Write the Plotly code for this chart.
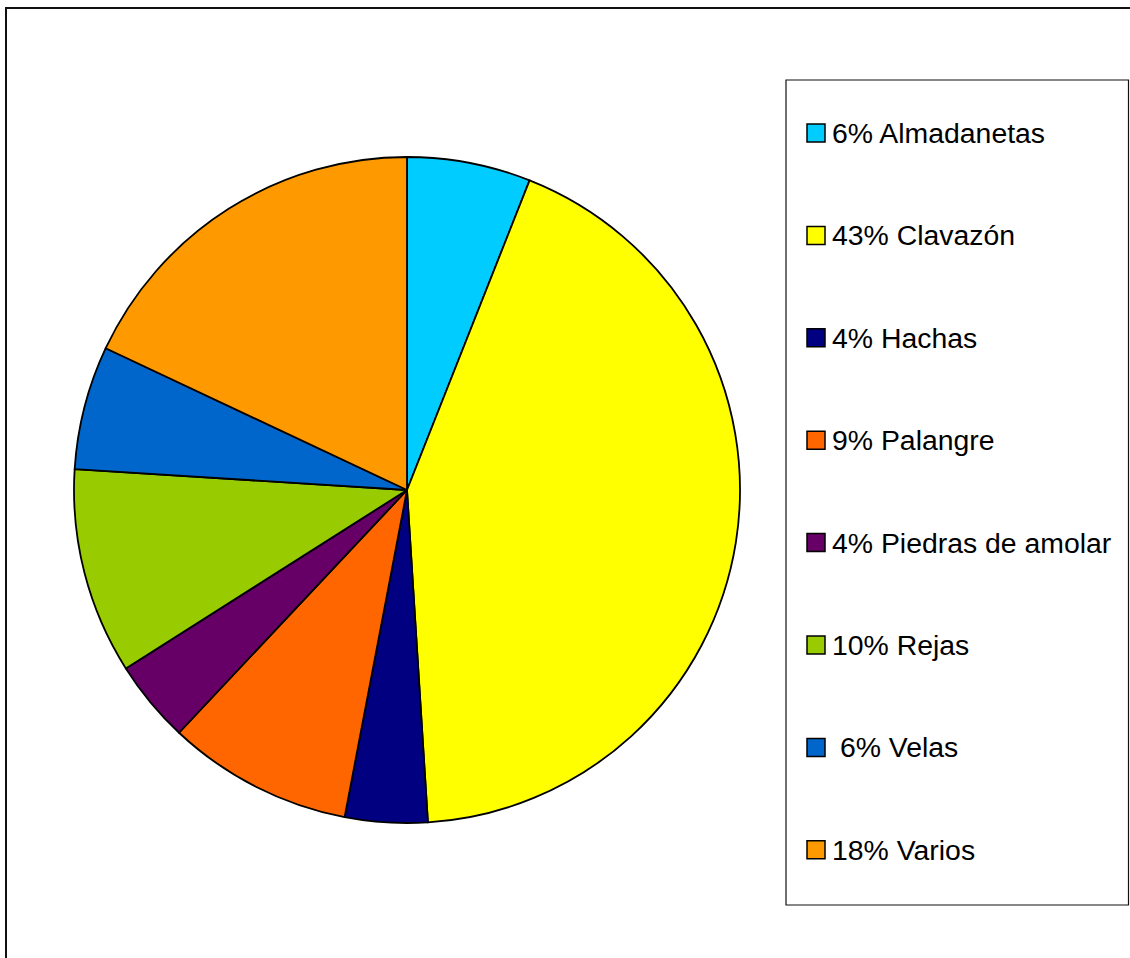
import plotly.graph_objects as go

# Share of goods by category (percent)
labels = ["Almadanetas", "Clavazón", "Hachas", "Palangre",
          "Piedras de amolar", "Rejas", "Velas", "Varios"]
values = [6, 43, 4, 9, 4, 10, 6, 18]
legend_text = ["6% Almadanetas", "43% Clavazón", "4% Hachas", "9% Palangre",
               "4% Piedras de amolar", "10% Rejas", " 6% Velas", "18% Varios"]
colors = ["#00CCFF", "#FFFF00", "#000080", "#FF6600",
          "#660066", "#99CC00", "#0066CC", "#FF9900"]

W, H = 1130, 958


def px(x):
    return x / W


def py(y):
    return 1 - y / H


fig = go.Figure()

# Pie centred at (407, 490) px with radius ~333 px
cx, cy, r = 407, 490, 333
fig.add_trace(go.Pie(
    labels=labels,
    values=values,
    sort=False,
    direction="clockwise",
    rotation=0,
    textinfo="none",
    hoverinfo="label+percent",
    marker=dict(colors=colors, line=dict(color="black", width=1.8)),
    domain=dict(x=[px(cx - r), px(cx + r)], y=[py(cy + r), py(cy - r)]),
    showlegend=False,
))

shapes = []
annotations = []

# Outer chart frame (top and left edges visible)
shapes.append(dict(type="rect", xref="paper", yref="paper",
                   x0=px(6), x1=px(W + 5), y0=py(H + 5), y1=py(8),
                   line=dict(color="#111111", width=2), fillcolor="rgba(0,0,0,0)"))

# Legend box
shapes.append(dict(type="rect", xref="paper", yref="paper",
                   x0=px(786), x1=px(1128.5), y0=py(905), y1=py(80),
                   line=dict(color="#111111", width=1.2), fillcolor="white"))

first_y, step = 133, 102.4
for i, (txt, col) in enumerate(zip(legend_text, colors)):
    yc = first_y + i * step
    shapes.append(dict(type="rect", xref="paper", yref="paper",
                       x0=px(807), x1=px(825), y0=py(yc + 9), y1=py(yc - 9),
                       line=dict(color="black", width=1.5), fillcolor=col))
    annotations.append(dict(xref="paper", yref="paper", x=px(830), y=py(yc),
                            text=txt, showarrow=False, xanchor="left", yanchor="middle",
                            font=dict(family="Liberation Sans, Arial, sans-serif",
                                      size=28.4, color="black")))

fig.update_layout(
    width=W, height=H,
    margin=dict(l=0, r=0, t=0, b=0),
    paper_bgcolor="white",
    plot_bgcolor="white",
    shapes=shapes,
    annotations=annotations,
)

fig.write_html("out.html")
